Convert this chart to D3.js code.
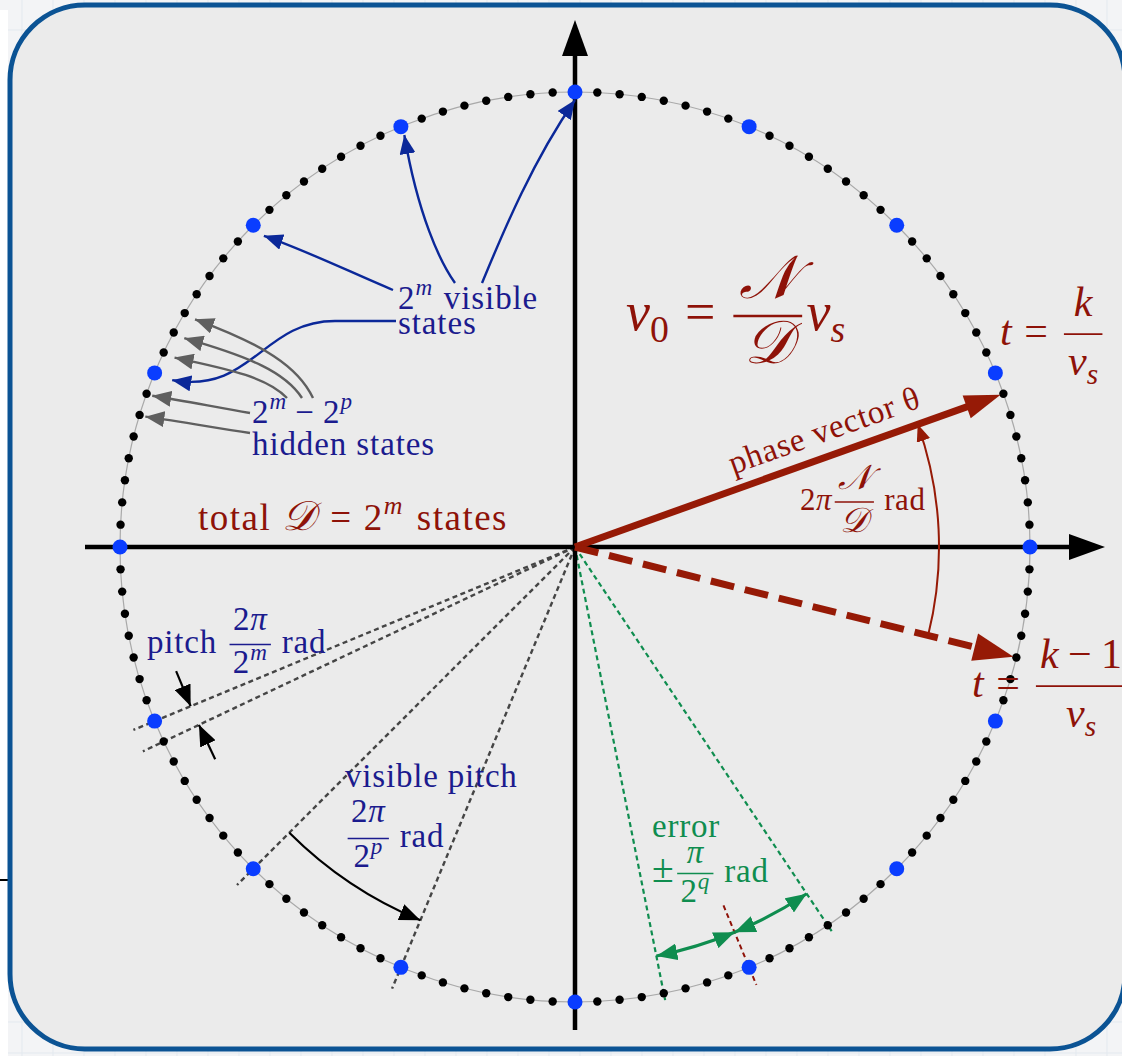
<!DOCTYPE html>
<html><head><meta charset="utf-8">
<script src="https://cdn.jsdelivr.net/npm/d3@7"></script>
<style>
html,body{margin:0;padding:0;background:#f3f4f6;}
svg{display:block;}
</style></head><body>
<script>
// ---------- phase-register parameters ----------
const mBits = 7;                       // total bits m
const pBits = 4;                       // visible bits p
const totalStates = 2 ** mBits;        // D = 2^m states
const visibleStep = 2 ** (mBits - pBits); // one visible state every 8 states
const phaseState = 7;                  // state index at t = k / nu_s
const prevPhaseState = -5;             // state index at t = (k-1) / nu_s
const visibleLeaderStates = [40, 32, 48, 56];
const hiddenLeaderStates = [53, 54, 55, 57, 58];
const pitchStates = [72, 73];
const visiblePitchStates = [80, 88];
const errorCentreState = 104;
const errorHalfStates = 4;

// ---------- geometry ----------
const W = 1122, H = 1056;
const cx = 575, cy = 547, R = 455;
const angle = d3.scaleLinear().domain([0, totalStates]).range([0, 2 * Math.PI]);
const pt = (i, r) => [cx + r * Math.cos(angle(i)), cy - r * Math.sin(angle(i))];

const C = {
  navy: "#1b1b8e", navyArrow: "#0b2899", red: "#8e1208", vec: "#961a06",
  green: "#0f8d4f", gray: "#5f5f5f", dash: "#454545", blue: "#0a3dff",
  frame: "#0b5394", fill: "#ebebeb"
};
const SERIF = '"Liberation Serif","Times New Roman",serif';
const CAL = '"DejaVu Serif","DejaVu Sans","Noto Sans",serif';

const svg = d3.select("body").append("svg").attr("width", W).attr("height", H);
const defs = svg.append("defs");

function marker(id, color, len, half) {
  defs.append("marker").attr("id", id)
    .attr("viewBox", `0 0 ${len} ${2 * half}`)
    .attr("refX", len).attr("refY", half)
    .attr("markerWidth", len).attr("markerHeight", 2 * half)
    .attr("markerUnits", "userSpaceOnUse").attr("orient", "auto-start-reverse")
    .append("path").attr("d", `M0,0L${len},${half}L0,${2 * half}Z`).attr("fill", color);
}
marker("mNavy", C.navyArrow, 19, 8);
marker("mGray", C.gray, 19, 8);
marker("mBlack", "#000", 21, 8.5);
marker("mRed", C.vec, 17, 7);
marker("mGreen", C.green, 21, 8.5);

// ---------- page background ----------
svg.append("rect").attr("width", W).attr("height", H).attr("fill", "#f3f4f6");
const grid = svg.append("g").attr("stroke", "#e3e9ef").attr("stroke-width", 1);
d3.range(22, W, 31).forEach(x => grid.append("line").attr("x1", x).attr("x2", x).attr("y1", 0).attr("y2", H));
d3.range(30, H, 31).forEach(y => grid.append("line").attr("y1", y).attr("y2", y).attr("x1", 0).attr("x2", W));
svg.append("rect").attr("x", 0).attr("y", 10).attr("width", 8).attr("height", H).attr("fill", "#ffffff");
svg.append("line").attr("x1", 0).attr("x2", 8).attr("y1", 880).attr("y2", 880).attr("stroke", "#000").attr("stroke-width", 2);

svg.append("rect").attr("x", 10).attr("y", 5).attr("width", 1115).attr("height", 1044).attr("rx", 75)
  .attr("fill", C.fill).attr("stroke", C.frame).attr("stroke-width", 5);

const line = (g, a, b) => g.append("line").attr("x1", a[0]).attr("y1", a[1]).attr("x2", b[0]).attr("y2", b[1]);

function head(g, tip, dirAng, len, half, color) {
  const ux = Math.cos(dirAng), uy = Math.sin(dirAng);
  const bx = tip[0] - ux * len, by = tip[1] - uy * len;
  g.append("polygon").attr("fill", color).attr("points", [
    tip, [bx - uy * half, by + ux * half], [bx + uy * half, by - ux * half]
  ].map(d => d.join(",")).join(" "));
}

// ---------- rays from the centre ----------
const rays = svg.append("g").attr("fill", "none");
[...pitchStates, ...visiblePitchStates].forEach(i =>
  line(rays, [cx, cy], pt(i, 478)).attr("stroke", C.dash).attr("stroke-width", 2.4).attr("stroke-dasharray", "5 3.5"));
[errorCentreState - errorHalfStates, errorCentreState + errorHalfStates].forEach(i =>
  line(rays, [cx, cy], pt(i, 462)).attr("stroke", C.green).attr("stroke-width", 2.2).attr("stroke-dasharray", "5 3.5"));
line(rays, pt(errorCentreState, 388), pt(errorCentreState, 474))
  .attr("stroke", C.red).attr("stroke-width", 2).attr("stroke-dasharray", "5 3.5");

// ---------- axes ----------
const axes = svg.append("g");
line(axes, [85, cy], [1072, cy]).attr("stroke", "#000").attr("stroke-width", 4.5);
head(axes, [1105, cy], 0, 36, 13, "#000");
line(axes, [cx, 1030], [cx, 52]).attr("stroke", "#000").attr("stroke-width", 4.5);
head(axes, [cx, 20], -Math.PI / 2, 36, 13, "#000");

// ---------- the state circle ----------
svg.append("circle").attr("cx", cx).attr("cy", cy).attr("r", R)
  .attr("fill", "none").attr("stroke", "#a9a9a9").attr("stroke-width", 1.2);
const states = d3.range(totalStates);
svg.append("g").selectAll("circle").data(states.filter(i => i % visibleStep !== 0)).join("circle")
  .attr("cx", i => pt(i, R)[0]).attr("cy", i => pt(i, R)[1]).attr("r", 4.2).attr("fill", "#000");
svg.append("g").selectAll("circle").data(states.filter(i => i % visibleStep === 0)).join("circle")
  .attr("cx", i => pt(i, R)[0]).attr("cy", i => pt(i, R)[1]).attr("r", 7.5).attr("fill", C.blue);

// ---------- arcs ----------
function arcPath(r, i0, i1) {
  const p = d3.path();
  p.arc(cx, cy, r, -angle(i0), -angle(i1), i1 > i0);
  return p.toString();
}
const arcs = svg.append("g").attr("fill", "none");
arcs.append("path").attr("d", arcPath(404, visiblePitchStates[0], visiblePitchStates[1]))
  .attr("stroke", "#000").attr("stroke-width", 2.2).attr("marker-end", "url(#mBlack)");
arcs.append("path").attr("d", arcPath(417, errorCentreState - errorHalfStates, errorCentreState))
  .attr("stroke", C.green).attr("stroke-width", 3).attr("marker-end", "url(#mGreen)").attr("marker-start", "url(#mGreen)");
arcs.append("path").attr("d", arcPath(417, errorCentreState, errorCentreState + errorHalfStates))
  .attr("stroke", C.green).attr("stroke-width", 3).attr("marker-end", "url(#mGreen)").attr("marker-start", "url(#mGreen)");
arcs.append("path").attr("d", arcPath(364, prevPhaseState, phaseState))
  .attr("stroke", C.vec).attr("stroke-width", 2).attr("marker-end", "url(#mRed)");

// pitch dimension arrows, perpendicular to the two neighbouring rays
[[pitchStates[0], 1], [pitchStates[1], -1]].forEach(([i, s]) => {
  const a = angle(i), tip = pt(i, 416);
  const tail = [tip[0] + s * 38 * Math.sin(a), tip[1] + s * 38 * Math.cos(a)];
  line(arcs, tail, tip).attr("stroke", "#000").attr("stroke-width", 2.2).attr("marker-end", "url(#mBlack)");
});

// ---------- phase vectors ----------
const vecs = svg.append("g");
const vTip = pt(phaseState, 452), vDir = -angle(phaseState);
line(vecs, [cx, cy], pt(phaseState, 452 - 30)).attr("stroke", C.vec).attr("stroke-width", 7);
head(vecs, vTip, vDir, 36, 12, C.vec);
const pTip = pt(prevPhaseState, 452), pDir = -angle(prevPhaseState);
line(vecs, [cx, cy], pt(prevPhaseState, 452 - 34)).attr("stroke", C.vec).attr("stroke-width", 7)
  .attr("stroke-dasharray", "24 11");
head(vecs, pTip, pDir, 40, 14, C.vec);

// ---------- leaders ----------
function curve(g, s, c1, c2, e, color, mk) {
  const p = d3.path();
  p.moveTo(...s); p.bezierCurveTo(...c1, ...c2, ...e);
  return g.append("path").attr("d", p.toString()).attr("fill", "none")
    .attr("stroke", color).attr("stroke-width", 2.4).attr("marker-end", `url(#${mk})`);
}
const lead = svg.append("g");
curve(lead, [455, 283], [440, 262], [418, 215], pt(visibleLeaderStates[0], 446), C.navyArrow, "mNavy");
curve(lead, [482, 283], [500, 240], [530, 165], pt(visibleLeaderStates[1], 447), C.navyArrow, "mNavy");
curve(lead, [393, 290], [350, 272], [305, 250], pt(visibleLeaderStates[2], 440), C.navyArrow, "mNavy");
{
  const p = d3.path(), e = pt(visibleLeaderStates[3], 436);
  p.moveTo(396, 321); p.lineTo(335, 321); p.bezierCurveTo(262, 321, 252, 394, ...e);
  lead.append("path").attr("d", p.toString()).attr("fill", "none").attr("stroke", C.navyArrow)
    .attr("stroke-width", 2.4).attr("marker-end", "url(#mNavy)");
}
const hiddenStarts = [[[313, 398], [298, 366], [262, 344]], [[302, 398], [285, 372], [250, 357]],
                      [[287, 398], [268, 378], [233, 370]], [[250, 413], [215, 407], [185, 401]],
                      [[250, 433], [215, 428], [185, 422]]];
hiddenLeaderStates.forEach((i, k) => {
  const [s, c1, c2] = hiddenStarts[k];
  curve(lead, s, c1, c2, pt(i, i < 56 ? 443 : 449), C.gray, "mGray");
});

// ---------- typeset labels ----------
let LS = 0;   // letter spacing of the label being set
function run(g, x, y, str, fs, style, color) {
  const t = g.append("text").attr("x", x).attr("y", y).attr("font-size", fs).attr("fill", color)
    .attr("font-family", SERIF).text(str);
  if (LS) t.attr("letter-spacing", LS);
  if (style === "i") t.attr("font-style", "italic");
  if (style === "cal") t.attr("font-family", CAL).attr("font-style", "italic")
    .attr("letter-spacing", 0).attr("font-size", fs * 1.12);
  return t.node().getComputedTextLength();
}
function row(g, x, y, items, fs, color) {
  let X = x;
  for (const it of items) {
    const [k, a, b, o] = it;
    if (k === "sp") X += a * fs;
    else if (k === "r" || k === "i" || k === "cal") X += run(g, X, y, a, fs, k, color);
    else if (k === "big") X += run(g, X, y, a, fs * b, "r", color);
    else if (k === "supR" || k === "supI") X += run(g, X, y - 0.42 * fs, a, fs * 0.7, k === "supI" ? "i" : "r", color);
    else if (k === "subR" || k === "subI") X += run(g, X, y + 0.22 * fs, a, fs * 0.7, k === "subI" ? "i" : "r", color);
    else if (k === "frac") X += frac(g, X, y, a, b, fs, color, o || {});
  }
  return X - x;
}
function frac(g, x, y, num, den, fs, color, o) {
  const axis = y - (o.axis ?? 0.26) * fs;
  const gn = g.append("g"), gd = g.append("g");
  const wn = row(gn, 0, axis - (o.up ?? 0.42) * fs, num, fs, color);
  const wd = row(gd, 0, axis + (o.down ?? 0.95) * fs, den, fs, color);
  const w = Math.max(wn, wd) + 0.2 * fs;
  const pad = 0.08 * fs;
  gn.attr("transform", `translate(${x + pad + (w - wn) / 2},0)`);
  gd.attr("transform", `translate(${x + pad + (w - wd) / 2},0)`);
  g.append("line").attr("x1", x + pad).attr("x2", x + pad + w).attr("y1", axis).attr("y2", axis)
    .attr("stroke", color).attr("stroke-width", Math.max(1.3, fs * 0.045));
  return w + 2 * pad;
}
const lab = svg.append("g");
const label = (x, y, items, fs, color, ls = 0) => { LS = ls; const w = row(lab.append("g"), x, y, items, fs, color); LS = 0; return w; };

const two = (e) => [["r", "2"], ["supI", e]];
const twoPi = [["r", "2"], ["i", "π"]];

label(398, 309, [...two("m"), ["sp", 0.33], ["r", "visible"]], 33, C.navy, 0.9);
label(398, 334, [["r", "states"]], 33, C.navy, 0.9);
label(252, 423, [...two("m"), ["sp", 0.25], ["r", "−"], ["sp", 0.25], ...two("p")], 33, C.navy, 0.9);
label(252, 455, [["r", "hidden states"]], 33, C.navy, 0.9);
label(198, 530, [["r", "total"], ["sp", 0.3], ["cal", "𝒟"], ["sp", 0.4], ["r", "="], ["sp", 0.3],
                 ...two("m"), ["sp", 0.35], ["r", "states"]], 37, C.red, 1.5);

label(626, 330, [["i", "ν"], ["subR", "0"], ["sp", 0.3], ["r", "="], ["sp", 0.25],
                 ["frac", [["cal", "𝒩"]], [["cal", "𝒟"]], { up: 0.34, down: 0.88 }], ["i", "ν"], ["subI", "s"]], 54, C.red);
label(1000, 345, [["i", "t"], ["sp", 0.3], ["r", "="], ["sp", 0.3],
                  ["frac", [["i", "k"]], [["i", "ν"], ["subI", "s"]], { up: 0.42, down: 0.98 }]], 42, C.red);
label(800, 510, [...twoPi, ["frac", [["cal", "𝒩"]], [["cal", "𝒟"]], { up: 0.42, down: 0.98 }], ["sp", 0.25], ["r", "rad"]], 31, C.red, 0.6);
label(972, 697, [["i", "t"], ["sp", 0.3], ["r", "="], ["sp", 0.3],
                 ["frac", [["i", "k"], ["sp", 0.22], ["r", "−"], ["sp", 0.22], ["r", "1"]], [["i", "ν"], ["subI", "s"]], { up: 0.42, down: 0.98 }]], 42, C.red);

// phase vector caption, laid along the vector
{
  const a = angle(phaseState), along = 274, off = 15;
  const x = cx + along * Math.cos(a) - off * Math.sin(a);
  const y = cy - along * Math.sin(a) - off * Math.cos(a);
  lab.append("text").attr("transform", `translate(${x},${y}) rotate(${-a * 180 / Math.PI})`)
    .attr("text-anchor", "middle").attr("font-size", 33).attr("fill", C.red).attr("font-family", SERIF)
    .attr("letter-spacing", 0.8).text("phase vector θ");
}

label(147, 653, [["r", "pitch"], ["sp", 0.3], ["frac", twoPi, two("m"), { up: 0.45, down: 0.88 }], ["sp", 0.25], ["r", "rad"]], 33, C.navy, 0.8);
label(345, 787, [["r", "visible pitch"]], 33, C.navy, 0.8);
label(345, 847, [["frac", twoPi, two("p"), { up: 0.5, down: 0.88 }], ["sp", 0.25], ["r", "rad"]], 33, C.navy, 0.8);
label(652, 837, [["r", "error"]], 33, C.green, 0.8);
label(652, 882, [["big", "±", 1.2], ["frac", [["i", "π"]], two("q"), { up: 0.32, down: 0.88 }], ["sp", 0.25], ["r", "rad"]], 33, C.green, 0.8);
</script>
</body></html>
